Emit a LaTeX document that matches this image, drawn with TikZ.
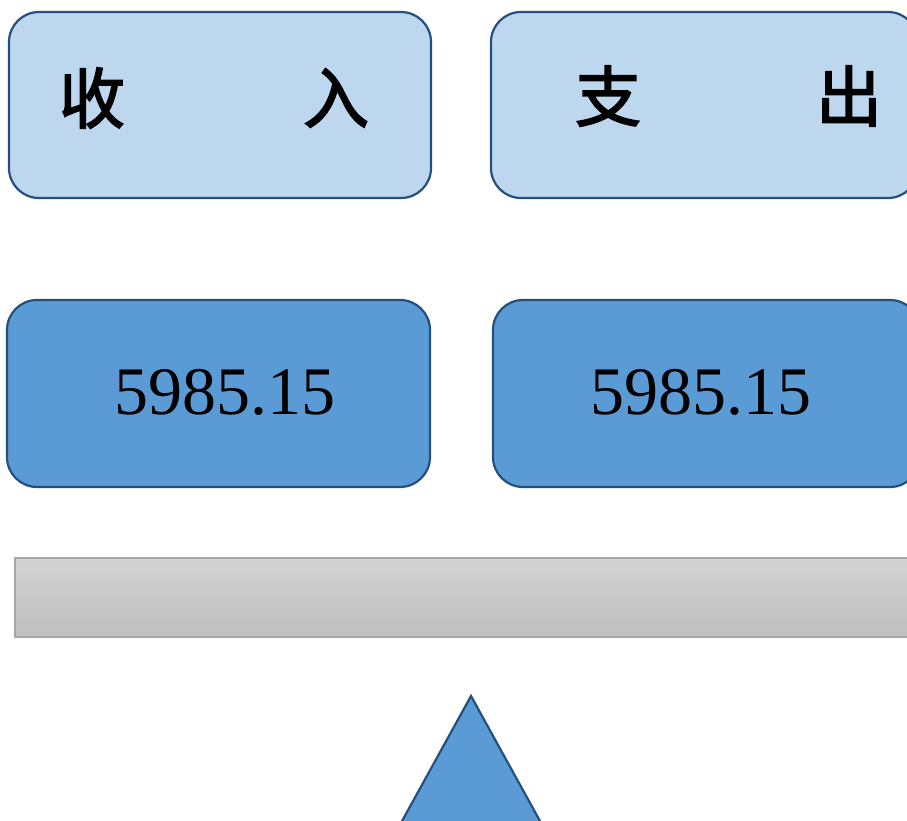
\documentclass[tikz,border=0pt]{standalone}
\usepackage{fontspec}
\setmainfont{Liberation Serif}
\newfontfamily\cjk{Noto Sans CJK SC}[AutoFakeBold=2.5]
\definecolor{lightbox}{HTML}{BDD7EE}
\definecolor{midbox}{HTML}{5B9BD5}
\definecolor{edgeblue}{HTML}{25507E}
\definecolor{bartop}{HTML}{D3D3D3}
\definecolor{barbot}{HTML}{BEBEBE}
\definecolor{baredge}{HTML}{A6A6A6}
\tikzset{
  labelbox/.style={draw=edgeblue, line width=2.2pt, fill=lightbox, rounded corners=30pt},
  valuebox/.style={draw=edgeblue, line width=2.2pt, fill=midbox, rounded corners=30pt},
  cjktext/.style={font=\cjk\bfseries\fontsize{66}{66}\selectfont, inner sep=0pt},
  numtext/.style={font=\fontsize{68}{68}\selectfont, inner sep=0pt}
}
\begin{document}
\begin{tikzpicture}[x=1pt,y=-1pt]
\useasboundingbox (0,0) rectangle (907,821);
\clip (0,0) rectangle (907,821);
% top row
\draw[labelbox] (9,12) rectangle (431,198);
\draw[labelbox] (491,12) rectangle (918,198);
\node[cjktext] (shou) at (92,98) {收};
\node[cjktext] (ru) at (336,98) {入};
\node[cjktext] (zhi) at (608,96) {支};
\node[cjktext] (chu) at (849,96) {出};
% second row
\draw[valuebox] (7,300) rectangle (430,487);
\draw[valuebox] (493,300) rectangle (920,487);
\node[numtext] (inval) at (225,392) {5985.15};
\node[numtext] (outval) at (701,392) {5985.15};
% bar
\shade[top color=bartop, bottom color=barbot] (15,558) rectangle (915,637);
\draw[baredge, line width=1.2pt] (15,558) rectangle (915,637);
% fulcrum
\draw[edgeblue, line width=2.2pt, fill=midbox, line join=miter] (471,696) -- (551,841) -- (391,841) -- cycle;
\end{tikzpicture}
\end{document}
